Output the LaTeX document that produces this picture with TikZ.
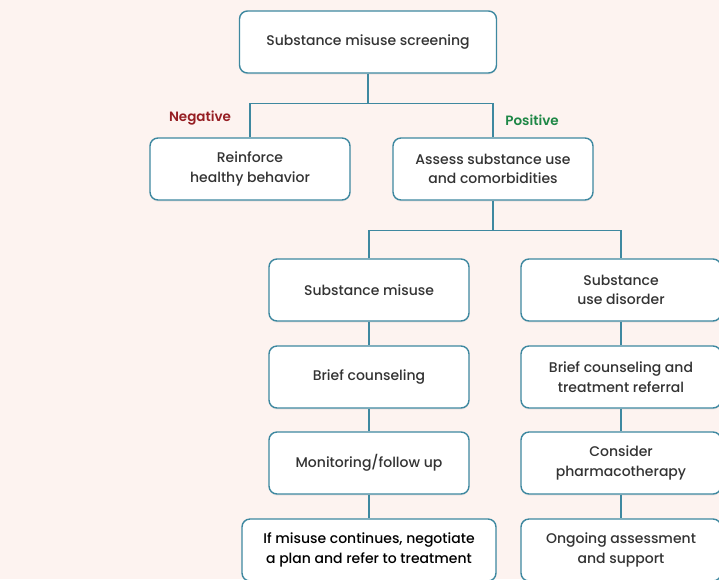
\documentclass[tikz,border=0pt]{standalone}
\usepackage{fontspec}
\setmainfont{Poppins}[UprightFont=* Medium, BoldFont=* SemiBold]
\usepackage{tikz}
\usetikzlibrary{positioning,calc,shadows}
\definecolor{bgpink}{RGB}{253,243,240}
\definecolor{boxteal}{RGB}{62,136,160}
\definecolor{txtgray}{RGB}{51,51,51}
\definecolor{negred}{RGB}{150,30,35}
\definecolor{posgreen}{RGB}{30,135,70}

\tikzset{
  stepbox/.style={draw=boxteal, line width=1.4pt, rounded corners=8pt, fill=white,
    minimum width=200pt, minimum height=62pt, align=center, text=txtgray,
    font=\fontsize{14}{19.5}\selectfont,
    drop shadow={opacity=0.12, shadow xshift=0pt, shadow yshift=-1.5pt}},
  link/.style={draw=boxteal, line width=1.4pt},
  branch/.style={font=\fontsize{13.5}{16}\selectfont\bfseries}
}

\begin{document}
\begin{tikzpicture}[x=1pt,y=-1pt]
        \fill[bgpink] (0,0) rectangle (719,579);
        \useasboundingbox (0,0) rectangle (719,579);
        \clip (0,0) rectangle (719,579);
        % Screening and first split
        \node[stepbox, minimum width=257pt] (screen) at (368,42) {Substance misuse screening};
        \node[stepbox] (reinforce) at (250,169) {Reinforce\\healthy behavior};
        \node[stepbox] (assess) at (493,169) {Assess substance use\\and comorbidities};
        \node[branch, text=negred] (neg) at (200,118) {Negative};
        \node[branch, text=posgreen] (pos) at (532,120) {Positive};
        
        % Left column
        \node[stepbox] (misuse) at (369,290) {Substance misuse};
        \node[stepbox] (brief) at (369,377) {Brief counseling};
        \node[stepbox] (monitor) at (369,463) {Monitoring/follow up};
        \node[stepbox, minimum width=254pt, text=black] (refer) at (369,550) {If misuse continues, negotiate\\a plan and refer to treatment};
        
        % Right column
        \node[stepbox] (disorder) at (621,290) {Substance\\use disorder};
        \node[stepbox] (referral) at (621,377) {Brief counseling and\\treatment referral};
        \node[stepbox] (pharma) at (621,463) {Consider\\pharmacotherapy};
        \node[stepbox] (ongoing) at (621,550) {Ongoing assessment\\and support};
        
        \coordinate (j1) at ($(screen.south)+(0,30)$);
        \coordinate (j2) at ($(assess.south)+(0,30)$);
        \draw[link] (screen.south) -- (j1);
        \draw[link] (reinforce.north) |- (j1) -| (assess.north);
        \draw[link] (assess.south) -- (j2);
        \draw[link] (misuse.north) |- (j2) -| (disorder.north);
        \draw[link] (misuse) -- (brief);
        \draw[link] (brief) -- (monitor);
        \draw[link] (monitor) -- (refer);
        \draw[link] (disorder) -- (referral);
        \draw[link] (referral) -- (pharma);
        \draw[link] (pharma) -- (ongoing);
    \end{tikzpicture}
\end{document}
